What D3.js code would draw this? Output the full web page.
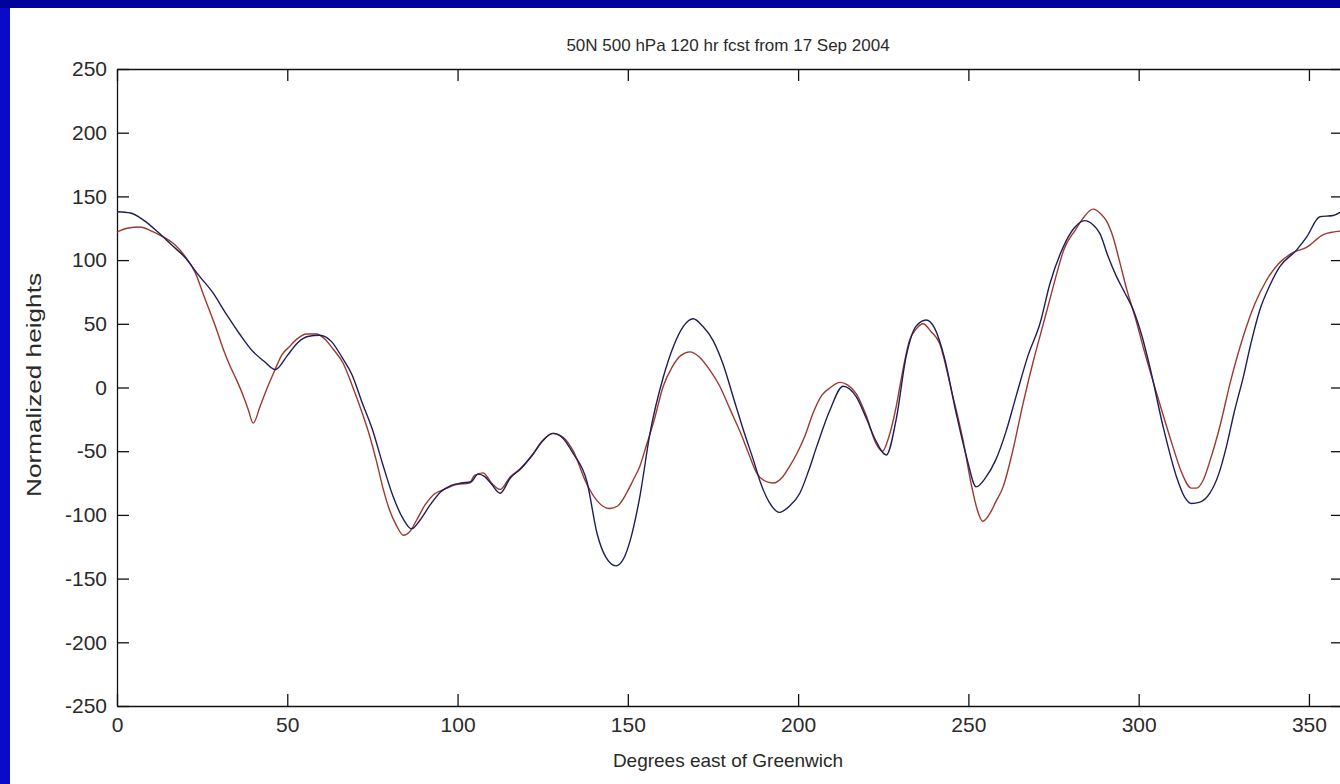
<!DOCTYPE html>
<html>
<head>
    <meta charset="utf-8">
    <script src="https://d3js.org/d3.v7.min.js"></script>
    <style>
        body {margin: 0; background: #0000cc; overflow: hidden;}
        svg {display: block;}
        text {font-family: "Liberation Sans", Arial, Helvetica, sans-serif; fill: #2a2a2a;}
        .axis path, .axis line {stroke: #111; stroke-width: 1.3px;}
    </style>
</head>
<body>
    <svg width="1340" height="784"></svg>
    <script>
        // tick labels
        let xTicks = [0, 50, 100, 150, 200, 250, 300, 350];
        let yTicks = [-250, -200, -150, -100, -50, 0, 50, 100, 150, 200, 250];

        // dark (blue) curve, longitude and height
        let lonBlue = [0, 4, 8, 12, 16, 20, 24, 28, 32, 36, 40, 43, 46.5, 50, 53, 56, 59.5, 63, 66, 69,
            72, 75, 78, 81, 84, 86.5, 89, 92, 95, 98, 101, 104, 106, 108, 110, 112.5, 115.5, 118.5, 122, 125,
            128, 131, 134, 138, 141, 143.5, 146.5, 149, 151, 153.5, 156.5, 160.4, 163.5, 166.3, 169.2, 172, 175, 178, 181, 184,
            187, 189, 191.5, 194.5, 197.5, 200.5, 203, 205.5, 209.3, 213.2, 217, 220, 222.5, 225.9, 228.8, 231.7, 234.6, 237.6, 240, 243,
            246.4, 249.5, 252.3, 255, 258, 261, 264, 267.5, 271, 274, 277.8, 281, 284.2, 286.5, 288.6, 291, 293.5, 296,
            298.4, 301, 303.3, 307.2, 311.1, 313.5, 315.5, 318, 320.9, 323.5, 325.8, 328, 330.7, 333, 335.6, 338.5,
            341.5, 346.4, 349.3, 353.2, 357.1, 360];
        let hgtBlue = [138, 137, 131, 122, 112, 102, 88, 75, 58, 42, 28, 21, 14, 25, 35, 40, 41, 36, 24, 10,
            -12, -33, -60, -85, -103, -111, -104, -92, -82, -77, -75, -74, -68, -70, -76, -83, -71, -64, -53, -42,
            -36, -40, -52, -74, -115, -133, -140, -133, -117, -86, -36, 8, 33, 48, 54, 48, 37, 18, -8, -34,
            -58, -75, -90, -98, -93, -83, -66, -46, -18, 1, -7, -24, -40, -53, -25, 24, 48, 53, 47, 23,
            -20, -55, -78, -71, -57, -35, -7, 25, 50, 82, 110, 125, 131, 128, 121, 103, 87, 74,
            61, 40, 16, -31, -70, -86, -91, -90, -83, -68, -46, -20, 8, 35, 61, 80,
            95, 108, 118, 134, 135, 139];

        // red curve
        let lonRed = [0, 3, 6.8, 10, 13, 17, 20.5, 23, 25.5, 27.5, 29.3, 31.5, 33, 35.1, 37, 38.5, 40, 42, 44,
            46.4, 48.5, 50.6, 52.8, 55.7, 58.6, 61, 63.5, 66.4, 69, 72, 74.3, 76.2, 78.2, 80, 82, 84.1, 86, 88, 90.5,
            93, 96, 100, 103.5, 105, 107.5, 110, 112.5, 115.5, 118.3, 122.2, 124.5, 128, 131, 134, 137.8, 141, 144.6, 147, 149.6,
            151.5, 153.5, 155.5, 157.5, 160.4, 163, 165.5, 168.2, 171, 174, 177, 180, 183, 185.5, 187.8, 190, 192.7, 195.5, 197.5, 199.6,
            202, 204.4, 207, 209.5, 212.3, 214.5, 217.1, 220, 222.9, 224.8, 226.5, 228.8, 230.5, 232.7, 234.7, 236.7, 239, 241.5, 245, 248.4,
            251, 252.5, 254.2, 256.5, 258, 260.2, 263, 266.1, 269, 271.5, 274, 276, 278, 281.5, 284, 286.6, 289, 290.5, 292.5, 294.3,
            296.5, 299.2, 301.5, 304.1, 307, 310, 312.5, 315.5, 317, 318.9, 321, 323.8, 327, 330.7, 334, 337.5, 341, 345.4, 349.3, 354.2,
            357, 360];
        let hgtRed = [122, 125, 126, 123, 119, 112, 101, 90, 72, 58, 45, 28, 18, 6, -6, -17, -28, -15, -1,
            14, 26, 32, 38, 42, 42, 38, 30, 19, 2, -20, -39, -58, -80, -96, -108, -116, -113, -104, -92,
            -84, -80, -76, -75, -69, -67, -75, -80, -70, -64, -52, -43, -36, -39, -50, -75, -89, -95, -93, -83,
            -73, -62, -45, -28, 1, 16, 25, 28, 24, 14, 1, -17, -35, -52, -67, -73, -75, -70, -62, -52,
            -38, -20, -6, 0, 4, 2, -5, -22, -44, -50, -40, -15, 10, 37, 46, 50, 44, 35, -2, -41,
            -78, -95, -105, -98, -90, -78, -50, -12, 20, 45, 70, 90, 108, 124, 134, 140, 136, 131, 118, 100,
            77, 53, 30, 6, -20, -46, -66, -79, -79, -73, -57, -31, 5, 40, 65, 84, 97, 106, 110, 120,
            122, 123];

        let W = 1340, H = 784;
        let margin = {left: 117, top: 69, right: 1343, bottom: 706};

        let svg = d3.select("svg");

        // blue frame round a white figure
        svg.append("rect").attr("width", W).attr("height", H).attr("fill", "#0a0ac8");
        svg.append("rect").attr("width", W).attr("height", 8).attr("fill", "#00009b");
        svg.append("rect").attr("x", 10).attr("y", 8).attr("width", W - 10).attr("height", H - 8).attr("fill", "#ffffff");

        let x = d3.scaleLinear().domain([0, 360]).range([margin.left, margin.right]);
        let y = d3.scaleLinear().domain([-250, 250]).range([margin.bottom, margin.top]);

        let plain = d => String(d);   // hyphen minus, as in the picture

        // axes, MATLAB style: box with inward ticks
        svg.append("g").attr("class", "axis")
            .attr("transform", "translate(0," + margin.bottom + ")")
            .call(d3.axisBottom(x).tickValues(xTicks).tickFormat(plain).tickSizeInner(-12).tickSizeOuter(0).tickPadding(11))
            .call(g => g.selectAll("text").attr("font-size", 21).attr("font-family", null));
        svg.append("g").attr("class", "axis")
            .attr("transform", "translate(0," + margin.top + ")")
            .call(d3.axisTop(x).tickValues(xTicks).tickSizeInner(-12).tickSizeOuter(0).tickFormat(""));
        svg.append("g").attr("class", "axis")
            .attr("transform", "translate(" + margin.left + ",0)")
            .call(d3.axisLeft(y).tickValues(yTicks).tickFormat(plain).tickSizeInner(-12).tickSizeOuter(0).tickPadding(10))
            .call(g => g.selectAll("text").attr("font-size", 21).attr("font-family", null));
        svg.append("g").attr("class", "axis")
            .attr("transform", "translate(" + margin.right + ",0)")
            .call(d3.axisRight(y).tickValues(yTicks).tickSizeInner(-12).tickSizeOuter(0).tickFormat(""));

        // the two curves
        let line = d3.line().curve(d3.curveMonotoneX);
        let redPts = lonRed.map((d, i) => [x(d), y(hgtRed[i])]);
        let bluePts = lonBlue.map((d, i) => [x(d), y(hgtBlue[i])]);

        svg.append("path").attr("d", line(redPts))
            .attr("fill", "none").attr("stroke", "#9a3a30").attr("stroke-width", 1.4);
        svg.append("path").attr("d", line(bluePts))
            .attr("fill", "none").attr("stroke", "#1e1e58").attr("stroke-width", 1.4);

        // title and axis labels
        svg.append("text").attr("x", 728).attr("y", 51)
            .attr("text-anchor", "middle").attr("font-size", 17)
            .text("50N 500 hPa 120 hr fcst from 17 Sep 2004");
        svg.append("text").attr("x", 728).attr("y", 767)
            .attr("text-anchor", "middle").attr("font-size", 19)
            .text("Degrees east of Greenwich");
        svg.append("text")
            .attr("transform", "translate(41,385) rotate(-90)")
            .attr("text-anchor", "middle").attr("font-size", 20)
            .attr("textLength", 224).attr("lengthAdjust", "spacingAndGlyphs")
            .text("Normalized heights");
    </script>
</body>
</html>
